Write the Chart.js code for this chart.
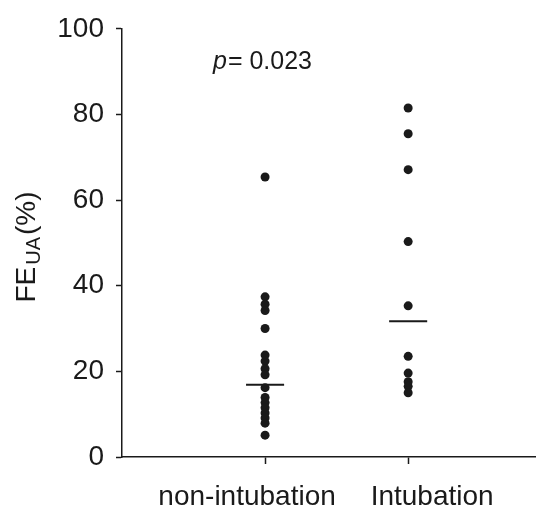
<!DOCTYPE html>
<html>
<head>
<meta charset="utf-8">
<script src="https://cdn.jsdelivr.net/npm/chart.js@4/dist/chart.umd.min.js"></script>
<style>
html,body{margin:0;padding:0;background:#fff;}
#wrap{width:540px;height:513px;}
</style>
</head>
<body>
<div id="wrap"><canvas id="c" width="540" height="513"></canvas></div>
<script>
const categories = ["non-intubation", "Intubation"];
const nonIntubation = [65.4, 37.4, 35.7, 34.2, 30.0, 23.8, 22.4, 20.6, 19.2, 16.2, 13.9, 12.7, 11.5, 10.3, 9.1, 7.9, 5.1];
const intubation = [81.5, 75.5, 67.1, 50.3, 35.3, 23.5, 19.6, 17.6, 16.5, 15.0];
const medians = [16.9, 31.7];
const yTicks = [0, 20, 40, 60, 80, 100];
const pText = "0.023";

const INK = '#1a1a1a';
const FONT = '"Liberation Sans", Arial, sans-serif';
const halfW = 0.133;
const labelShift = [-18, 24];

const pts = [];
nonIntubation.forEach(v => pts.push({x: 1, y: v}));
intubation.forEach(v => pts.push({x: 2, y: v}));

const datasets = [{
  type: 'scatter', data: pts, pointRadius: 4.5, pointBackgroundColor: INK,
  pointBorderWidth: 0, borderColor: INK
}];
medians.forEach((m, i) => {
  datasets.push({
    type: 'line', data: [{x: i + 1 - halfW, y: m}, {x: i + 1 + halfW, y: m}],
    borderColor: INK, borderWidth: 2, pointRadius: 0, fill: false
  });
});

const annot = {
  id: 'annot',
  afterDraw(chart) {
    const ctx = chart.ctx;
    ctx.save();
    ctx.fillStyle = INK;
    ctx.font = '28px ' + FONT;
    ctx.textAlign = 'center';
    ctx.textBaseline = 'alphabetic';
    const xs = chart.scales.x;
    categories.forEach((c, i) => {
      ctx.fillText(c, xs.getPixelForValue(i + 1) + labelShift[i], 505);
    });
    ctx.restore();
    ctx.save();
    ctx.fillStyle = INK;
    ctx.translate(35, 247);
    ctx.rotate(-Math.PI / 2);
    const big = '28px ' + FONT, small = '20px ' + FONT;
    ctx.font = big; const w1 = ctx.measureText('FE').width; const w3 = ctx.measureText('(%)').width;
    ctx.font = small; const w2 = ctx.measureText('UA').width;
    const gap = 2;
    let x = -(w1 + w2 + w3 + 2 * gap) / 2;
    ctx.textBaseline = 'alphabetic';
    ctx.font = big; ctx.fillText('FE', x, 0); x += w1 + gap;
    ctx.font = small; ctx.fillText('UA', x, 5); x += w2 + gap;
    ctx.font = big; ctx.fillText('(%)', x, 0);
    ctx.restore();
    ctx.save();
    ctx.fillStyle = INK;
    ctx.textBaseline = 'alphabetic';
    ctx.font = 'italic 25px ' + FONT;
    ctx.fillText('p', 213, 69);
    const pw = ctx.measureText('p').width;
    ctx.font = '25px ' + FONT;
    ctx.fillText('= ' + pText, 213 + pw + 1, 69);
    ctx.restore();
  }
};

new Chart(document.getElementById('c'), {
  data: {datasets},
  options: {
    responsive: false, animation: false,
    layout: {padding: {top: 25, right: 0, left: 0, bottom: 0}},
    plugins: {legend: {display: false}, tooltip: {enabled: false}},
    scales: {
      x: {
        type: 'linear', min: 0, max: 2.89,
        afterBuildTicks: s => { s.ticks = [{value: 1}, {value: 2}]; },
        afterFit: s => { s.height = 56; s.paddingRight = 0; },
        ticks: {callback: () => '', padding: 0, maxRotation: 0, autoSkip: false},
        grid: {drawOnChartArea: false, drawTicks: true, tickLength: 7, color: INK, tickWidth: 1.5},
        border: {display: true, color: INK, width: 1.5}
      },
      y: {
        min: 0, max: 100,
        afterBuildTicks: s => { s.ticks = yTicks.map(v => ({value: v})); },
        afterFit: s => { s.width = 122; },
        ticks: {color: INK, font: {size: 28, family: FONT}, padding: 12},
        grid: {drawOnChartArea: false, drawTicks: true, tickLength: 6, color: INK, tickWidth: 1.5},
        border: {display: true, color: INK, width: 1.5}
      }
    }
  },
  plugins: [annot]
});
</script>
</body>
</html>
